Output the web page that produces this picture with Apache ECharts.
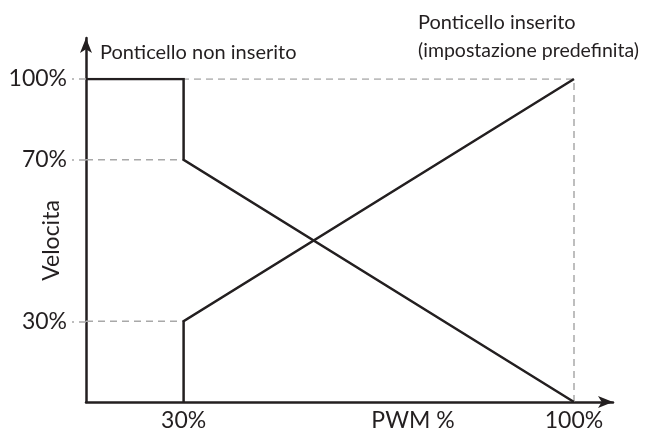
<!DOCTYPE html>
<html>
<head>
<meta charset="utf-8">
<script src="https://cdn.jsdelivr.net/npm/echarts@6/dist/echarts.min.js"></script>
<style>
  html, body { margin: 0; padding: 0; background: #fff; }
  #main { width: 645px; height: 432px; }
</style>
</head>
<body>
<div id="main"></div>
<script>
// schematic axes: steps are categories, only some of them get a label
const pwmSteps = ['0%', '30%', '47.5%', '65%', '82.5%', '100%'];
const speedSteps = ['0%', '30%', '50%', '70%', '100%'];
const pwmLabels = ['30%', '100%'];
const speedLabels = ['30%', '70%', '100%'];

// [PWM, Velocita]
const jumperOff = [['0%', '100%'], ['30%', '100%'], ['30%', '70%'], ['100%', '0%']];
const jumperOn = [['30%', '0%'], ['30%', '30%'], ['100%', '100%']];

// dashed helper lines
const guideTop = [['0%', '100%'], ['100%', '100%'], ['100%', '0%']];
const guide70 = [['0%', '70%'], ['30%', '70%']];
const guide30 = [['0%', '30%'], ['30%', '30%']];

const ink = '#231f20';
const dash = '#a8a8a8';
const font = 'Lato';

var myChart = echarts.init(document.getElementById('main'));

function guide(data) {
  return {
    type: 'line', xAxisIndex: 0, yAxisIndex: 0, data: data,
    symbol: 'none', silent: true, z: 1, animation: false,
    lineStyle: { color: dash, width: 1.5, type: [7, 5] }
  };
}
function curve(name, data) {
  return {
    name: name, type: 'line', xAxisIndex: 0, yAxisIndex: 0, data: data,
    symbol: 'none', z: 3, animation: false,
    lineStyle: { color: ink, width: 2.5, join: 'miter' }
  };
}

var option = {
  backgroundColor: '#fff',
  grid: [
    { left: 86, right: 71, top: 79, bottom: 30, outerBoundsMode: 'none' },
    { left: 86, right: 32, top: 38, bottom: 30, outerBoundsMode: 'none' }
  ],
  xAxis: [
    {
      type: 'category', gridIndex: 0, data: pwmSteps, boundaryGap: false,
      axisLine: { show: false }, axisTick: { show: false }, splitLine: { show: false },
      axisLabel: {
        interval: (i, v) => pwmLabels.includes(v),
        color: ink, fontFamily: font, fontSize: 23, margin: 7
      },
      name: 'PWM %', nameLocation: 'middle', nameGap: 7, nameMoveOverlap: false,
      nameTextStyle: { color: ink, fontFamily: font, fontSize: 23, padding: [0, 0, 0, 166] }
    },
    {
      type: 'value', gridIndex: 1, min: 0, max: 1,
      axisLabel: { show: false }, axisTick: { show: false }, splitLine: { show: false },
      axisLine: { lineStyle: { color: ink, width: 2.5 }, symbol: ['none', 'arrow'], symbolSize: [9, 15] }
    }
  ],
  yAxis: [
    {
      type: 'category', gridIndex: 0, data: speedSteps, boundaryGap: false,
      axisLine: { show: false }, splitLine: { show: false },
      axisTick: {
        show: true, length: 14,
        interval: (i, v) => speedLabels.includes(v),
        lineStyle: { color: dash, width: 1.5, type: [7, 5] }
      },
      axisLabel: {
        interval: (i, v) => speedLabels.includes(v),
        color: ink, fontFamily: font, fontSize: 23, margin: 19
      },
      name: 'Velocita', nameLocation: 'middle', nameGap: 23, nameMoveOverlap: false,
      nameTextStyle: { color: ink, fontFamily: font, fontSize: 23 }
    },
    {
      type: 'value', gridIndex: 1, min: 0, max: 1,
      axisLabel: { show: false }, axisTick: { show: false }, splitLine: { show: false },
      axisLine: { lineStyle: { color: ink, width: 2.5 }, symbol: ['none', 'arrow'], symbolSize: [9, 15] }
    }
  ],
  graphic: [
    { type: 'text', left: 100, top: 43, style: { text: 'Ponticello non inserito', fill: ink, font: '20px Lato' } },
    { type: 'text', left: 418, top: 13, style: { text: 'Ponticello inserito', fill: ink, font: '20px Lato' } },
    { type: 'text', left: 418, top: 41, style: { text: '(impostazione predefinita)', fill: ink, font: '19.5px Lato' } }
  ],
  series: [
    guide(guideTop),
    guide(guide70),
    guide(guide30),
    curve('Ponticello non inserito', jumperOff),
    curve('Ponticello inserito', jumperOn)
  ]
};

myChart.setOption(option);
</script>
</body>
</html>
